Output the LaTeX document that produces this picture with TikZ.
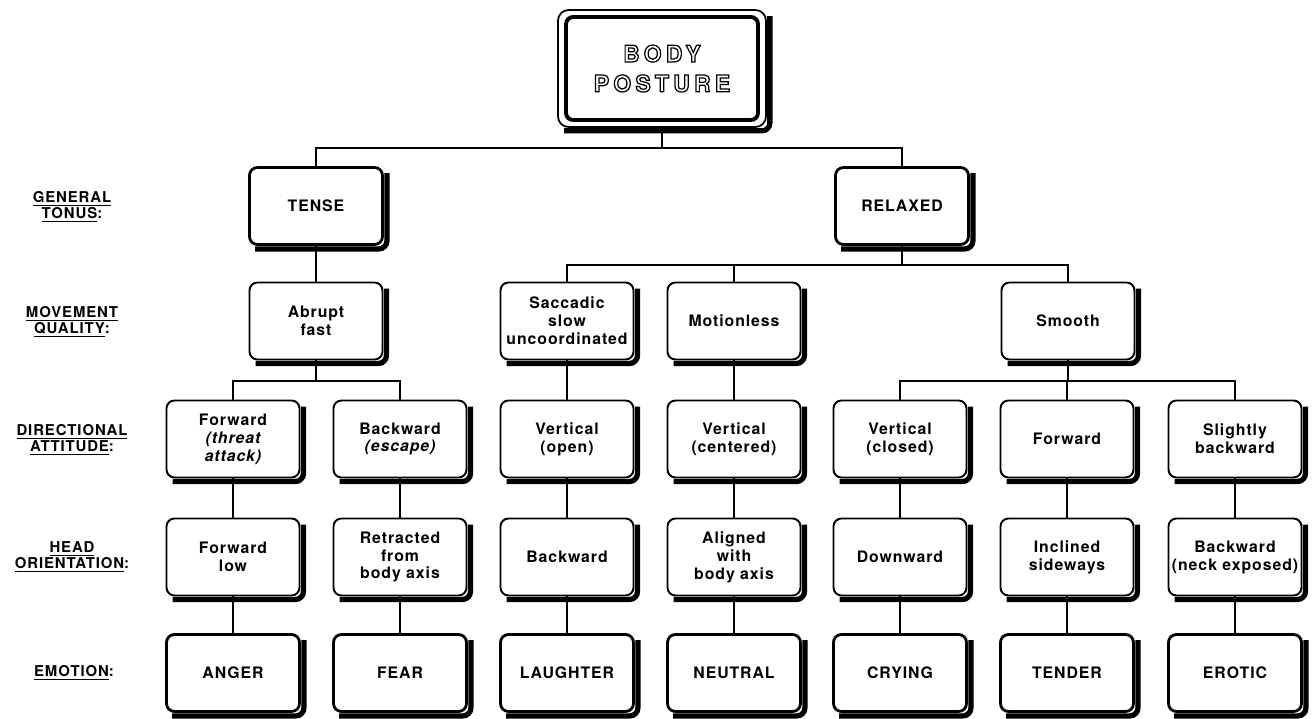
\documentclass[tikz,border=0pt]{standalone}
\usepackage{fontspec}
\setmainfont{TeX Gyre Heros}
\newfontfamily\boxfont[LetterSpace=6]{TeX Gyre Heros}
\newfontfamily\titlefont[LetterSpace=19]{TeX Gyre Heros}
\usetikzlibrary{positioning,calc}
\newcommand\hollow[1]{\special{pdf:literal direct 1 Tr 0.7 w}#1\special{pdf:literal direct 0 Tr}}
\tikzset{
  box/.style={draw=black,fill=white,line width=1.1pt,rounded corners=4.5pt,
    minimum width=2.66cm,minimum height=1.54cm,inner sep=1pt,align=center,
    font=\boxfont\bfseries\fontsize{9}{10.2}\selectfont},
  level box/.style={box,line width=1.6pt},
  shadow edge/.style={draw=black,line width=3pt,rounded corners=4.5pt},
  link/.style={line width=1pt},
  tag/.style={align=center,font=\boxfont\bfseries\fontsize{8.5}{9}\selectfont},
}
\begin{document}
\begin{tikzpicture}[x=0.02cm,y=-0.02cm]
  \useasboundingbox (0,0) rectangle (1312,719);
  % root
  \node[box,line width=1pt,rounded corners=6pt,minimum width=4.16cm,minimum height=2.34cm] (frame) at (662,68.5) {};
  \node[draw,line width=2.2pt,rounded corners=4pt,minimum width=3.84cm,minimum height=2.06cm,
    align=center,font=\titlefont\bfseries\fontsize{13}{17}\selectfont] (body) at (662,68.5) {\hollow{BODY}\\\hollow{POSTURE}};
  % levels on the left
  \node[tag] (lab1) at (72,207) {\underline{GENERAL}\\\underline{TONUS}:};
  \node[tag] (lab2) at (72,322) {\underline{MOVEMENT}\\\underline{QUALITY}:};
  \node[tag] (lab3) at (72,440) {\underline{DIRECTIONAL}\\\underline{ATTITUDE}:};
  \node[tag] (lab4) at (72,557) {\underline{HEAD}\\\underline{ORIENTATION}:};
  \node[tag] (lab5) at (74,673) {\underline{EMOTION}:};
  % general tonus
  \node[level box] (tense) at (316,206) {TENSE};
  \node[level box] (relaxed) at (902,206) {RELAXED};
  % movement quality
  \node[box] (abrupt) at (316,321) {Abrupt\\fast};
  \node[box] (saccadic) at (567,321) {Saccadic\\slow\\uncoordinated};
  \node[box] (motionless) at (734,321) {Motionless};
  \node[box] (smooth) at (1068,321) {Smooth};
  % directional attitude
  \node[box] (fwd) at (233,439) {Forward\\\itshape(threat\\\itshape attack)};
  \node[box] (bwd) at (400,439) {Backward\\\itshape(escape)};
  \node[box] (vopen) at (567,439) {Vertical\\(open)};
  \node[box] (vcent) at (734,439) {Vertical\\(centered)};
  \node[box] (vclosed) at (900,439) {Vertical\\(closed)};
  \node[box] (fwdrel) at (1067,439) {Forward};
  \node[box] (slight) at (1235,439) {Slightly\\backward};
  % head orientation
  \node[box] (fwdlow) at (233,557) {Forward\\low};
  \node[box] (retract) at (400,557) {Retracted\\from\\body axis};
  \node[box] (bwdhead) at (567,557) {Backward};
  \node[box] (aligned) at (734,557) {Aligned\\with\\body axis};
  \node[box] (downw) at (900,557) {Downward};
  \node[box] (incl) at (1067,557) {Inclined\\sideways};
  \node[box] (neck) at (1235,557) {Backward\\(neck exposed)};
  % emotion
  \node[level box] (anger) at (233,673) {ANGER};
  \node[level box] (fear) at (400,673) {FEAR};
  \node[level box] (laughter) at (567,673) {LAUGHTER};
  \node[level box] (neutral) at (734,673) {NEUTRAL};
  \node[level box] (crying) at (900,673) {CRYING};
  \node[level box] (tender) at (1067,673) {TENDER};
  \node[level box] (erotic) at (1235,673) {EROTIC};
  % shadows along the right and lower edges
  \foreach \s in {frame,tense,relaxed,abrupt,saccadic,motionless,smooth,
      fwd,bwd,vopen,vcent,vclosed,fwdrel,slight,
      fwdlow,retract,bwdhead,aligned,downw,incl,neck,
      anger,fear,laughter,neutral,crying,tender,erotic}
    \draw[shadow edge] ($(\s.north east)+(3,7)$) |- ($(\s.south west)+(7,3)$);
  % branches
  \coordinate (bar0) at (0,148);
  \coordinate (bar1) at (0,265);
  \coordinate (bar2) at (0,381);
  \foreach \c in {tense,relaxed}
    \draw[link] (frame.south) -- (frame.south |- bar0) -| (\c.north);
  \draw[link] (tense.south) -- (abrupt.north);
  \foreach \c in {saccadic,motionless,smooth}
    \draw[link] (relaxed.south) -- (relaxed.south |- bar1) -| (\c.north);
  \foreach \c in {fwd,bwd}
    \draw[link] (abrupt.south) -- (abrupt.south |- bar2) -| (\c.north);
  \foreach \c in {vclosed,fwdrel,slight}
    \draw[link] (smooth.south) -- (smooth.south |- bar2) -| (\c.north);
  \draw[link] (saccadic.south) -- (vopen.north);
  \draw[link] (motionless.south) -- (vcent.north);
  \foreach \a/\m/\e in {fwd/fwdlow/anger,bwd/retract/fear,vopen/bwdhead/laughter,
      vcent/aligned/neutral,vclosed/downw/crying,fwdrel/incl/tender,slight/neck/erotic}
    \draw[link] (\a.south) -- (\m.north) (\m.south) -- (\e.north);
\end{tikzpicture}
\end{document}
